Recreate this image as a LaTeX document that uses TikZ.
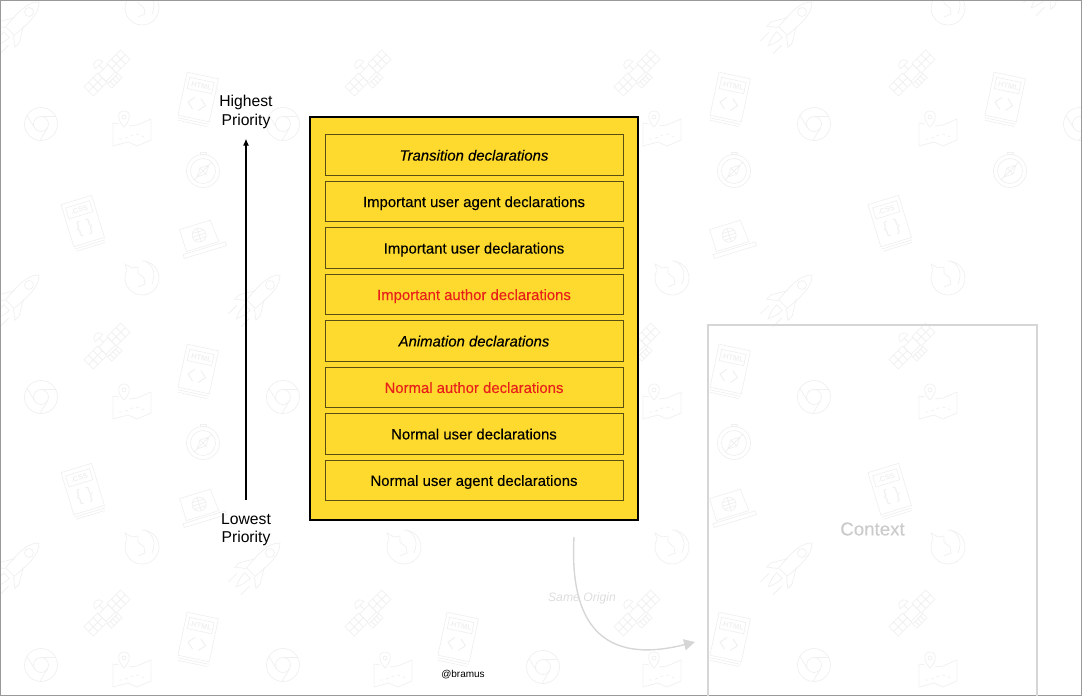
\documentclass[tikz,border=0pt]{standalone}
\usepackage{fontspec}
\setmainfont{Liberation Sans}
\newfontfamily\medfont[FakeBold=0.2]{Liberation Sans}
\usetikzlibrary{arrows.meta,positioning}
\definecolor{wallgrey}{HTML}{F0F0F0}
\definecolor{fadegrey}{HTML}{D6D6D6}
\definecolor{declyellow}{HTML}{FFDA2E}
\definecolor{rowline}{HTML}{5A4E12}
\definecolor{declred}{HTML}{E8201A}

\begin{document}
\begin{tikzpicture}[
    x=1pt, y=-1pt,
    outerbox/.style={draw=black, fill=declyellow, line width=2.8pt, outer sep=0pt, minimum width=328pt, minimum height=403pt},
    declbox/.style={draw=rowline, line width=1pt, outer sep=0pt, minimum width=298pt, minimum height=40.5pt, text height=12.6pt, text depth=1.4pt, font=\fontsize{14.9}{17}\medfont},
    prio/.style={align=center, inner sep=0pt, font=\fontsize{15.7}{18.4}\selectfont},
    axisarrow/.style={-{Latex[length=7pt,width=6pt]}, line width=1.1pt},
    faded/.style={-{Triangle[length=11pt,width=11pt]}, draw=fadegrey, line width=1.4pt},
    wall/.style={draw=wallgrey, line width=0.75pt},
    rocket/.pic={
        \draw[wall] (0,-31) .. controls (8,-24) and (8,-10) .. (6,10) -- (-6,10) .. controls (-8,-10) and (-8,-24) .. (0,-31) -- cycle;
        \draw[wall] (0,-17) circle[radius=4.5];
        \draw[wall] (6,-3) -- (15,12) -- (15,18) -- (6,11);
        \draw[wall] (-6,-3) -- (-15,12) -- (-15,18) -- (-6,11);
        \draw[wall] (-4,15) .. controls (-4,22) and (-2,26) .. (0,31) .. controls (2,26) and (4,22) .. (4,15) -- cycle;
        \draw[wall] (-9,21) -- (-9,33) (9,21) -- (9,33);
    },
    satellite/.pic={
        \draw[wall] (-9,-7) rectangle (9,7);
        \draw[wall] (9,-9) rectangle (35,9) (17.7,-9) -- (17.7,9) (26.3,-9) -- (26.3,9) (9,0) -- (35,0);
        \draw[wall] (-9,-9) rectangle (-35,9) (-17.7,-9) -- (-17.7,9) (-26.3,-9) -- (-26.3,9) (-9,0) -- (-35,0);
        \draw[wall] (-7,-15) .. controls (-6,-25) and (6,-25) .. (7,-15) -- cycle;
        \draw[wall] (0,-7) -- (0,-15);
        \draw[wall] (-10,11) rectangle (10,19) (-5,11) -- (-5,19) (0,11) -- (0,19) (5,11) -- (5,19);
    },
    chromeicon/.pic={
        \draw[wall] (0,0) circle[radius=16.5] (0,0) circle[radius=7.5];
        \draw[wall] (0,-7.5) -- (15,-7.5) (-6.5,3.7) -- (-14,-8.5) (6.5,3.7) -- (-1,16.4);
    },
    mapicon/.pic={
        \draw[wall] (-13,-7) -- (-19,-8) -- (-19,15) -- (-4,11) -- (5,15) -- (19,9) -- (19,-12) -- (5,-6) -- (-3,-5);
        \draw[wall] (-8,-4) .. controls (-15,-11) and (-15,-20) .. (-8,-20) .. controls (-1,-20) and (-1,-11) .. (-8,-4) -- cycle;
        \draw[wall] (-8,-14) circle[radius=2];
        \draw[wall, dashed] (-13,8) .. controls (-3,9) and (2,-2) .. (12,6);
    },
    firefoxicon/.pic={
        \draw[wall] (0,-17) arc[start angle=-90, end angle=205, radius=17];
        \draw[wall] (-15,-8) -- (-17,-14) -- (-10,-10) -- (-4,-11) -- (-4,-5) -- (2,0) -- (3,6) -- (-4,9);
        \draw[wall] (3,-17) .. controls (12,-12) and (14,-4) .. (10,6);
    },
    compassicon/.pic={
        \draw[wall] (0,0) circle[radius=16.5] (0,0) circle[radius=12.5];
        \draw[wall] (-3,-19) rectangle (3,-16.5);
        \draw[wall] (-9,9) -- (9,-9) (-3,-3) -- (3,3) -- (6,-6) -- cycle;
        \draw[wall] (-3,-3) -- (-6,6) -- (3,3);
    },
    htmlicon/.pic={
        \draw[wall] (-16,-23) rectangle (16,21);
        \draw[wall] (-16,23.5) -- (16,23.5) (-15,26) -- (15,26);
        \draw[wall] (-12.5,-18.5) rectangle (12.5,-7);
        \node[transform shape, inner sep=0pt, text=wallgrey, font=\fontsize{7.5}{9}\selectfont\bfseries] (htmltag) at (0,-12.7) {.HTML};
        \draw[wall, line width=1pt] (-3,0) -- (-9,6) -- (-3,12) (3,0) -- (9,6) -- (3,12);
    },
    cssicon/.pic={
        \draw[wall] (-16,-23) rectangle (16,21);
        \draw[wall] (-16,23.5) -- (16,23.5) (-15,26) -- (15,26);
        \draw[wall] (-12.5,-18.5) rectangle (12.5,-7);
        \node[transform shape, inner sep=0pt, text=wallgrey, font=\fontsize{7.5}{9}\selectfont\bfseries] (csstag) at (0,-12.7) {.CSS};
        \node[transform shape, inner sep=0pt, text=wallgrey, font=\fontsize{17}{18}\selectfont] (cssbrace) at (0,6) {\{\,\,\}};
    },
    laptopicon/.pic={
        \draw[wall] (-17,-14) -- (15,-14) -- (17,9) -- (-17,9) -- cycle;
        \draw[wall] (-21,11) rectangle (23,15);
        \draw[wall] (0,-3) circle[radius=7] (-7,-3) -- (7,-3) (0,-10) -- (0,4) (-6,-6.5) -- (6,-6.5) (-6,0.5) -- (6,0.5);
    }
]
\path[use as bounding box, clip] (0,0) rectangle (1082,696);

% wallpaper
\foreach \px/\py in {17/24,17/297,17/565,258/297,258/565,790/24,790/297,790/565,1053/-14}
    \pic[rotate=-45] at (\px,\py) {rocket};
\foreach \px/\py in {107/73,107/346,107/613,368/73,368/613,637/613,637/73,637/346,912/73,912/346,912/613}
    \pic[rotate=45, scale=0.74] at (\px,\py) {satellite};
\foreach \px/\py in {41/124,41/397,41/665,283/124,283/397,283/665,543/667,814/124,814/397,814/665,1080/124}
    \pic at (\px,\py) {chromeicon};
\foreach \px/\py in {132/131,132/404,132/672,393/672,662/131,662/404,662/672,938/131,938/404,938/672}
    \pic at (\px,\py) {mapicon};
\foreach \px/\py in {142/8,142/278,142/547,404/547,672/278,672/547,948/8,948/278,948/547}
    \pic at (\px,\py) {firefoxicon};
\foreach \px/\py in {203/171,203/443,734/171,734/443,1010/171}
    \pic at (\px,\py) {compassicon};
\foreach \px/\py in {198/98,198/370,198/638,458/638,730/98,730/370,730/638,1005/98}
    \pic[rotate=-12] at (\px,\py) {htmlicon};
\foreach \px/\py in {83/222,83/490,890/222,890/490}
    \pic[rotate=17] at (\px,\py) {cssicon};
\foreach \px/\py in {200/238,200/507,730/238,730/507}
    \pic[rotate=17] at (\px,\py) {laptopicon};

% frame
\draw[draw=gray!80, line width=1pt] (0.5,0.5) rectangle (1081.5,695.5);

% faded part
\node[draw=fadegrey, line width=2.6pt, outer sep=0pt, minimum width=329pt, minimum height=408pt, text=fadegrey!95!black, font=\fontsize{18.7}{22}\medfont] (context) at (872.5,529) {Context};
\coordinate (origin) at (574,537);
\coordinate (target) at (695,642);
\node[text=wallgrey!92!black, font=\fontsize{12.2}{14}\selectfont\itshape] (sameorigin) at (582,598) {Same Origin};
\draw[faded] (origin) .. controls (570,610) and (592,668) .. (target);

% priority stack
\node[outerbox] (stack) at (474,318.5) {};
\node[declbox] (transition) at (474,155) {\itshape Transition declarations};
\node[declbox, below=5.97pt of transition] (impagent) {Important user agent declarations};
\node[declbox, below=5.97pt of impagent] (impuser) {Important user declarations};
\node[declbox, below=5.97pt of impuser, text=declred] (impauthor) {Important author declarations};
\node[declbox, below=5.97pt of impauthor] (animation) {\itshape Animation declarations};
\node[declbox, below=5.97pt of animation, text=declred] (normauthor) {Normal author declarations};
\node[declbox, below=5.97pt of normauthor] (normuser) {Normal user declarations};
\node[declbox, below=5.97pt of normuser] (normagent) {Normal user agent declarations};

% axis
\node[prio] (highest) at (246,112) {Highest\\Priority};
\node[prio] (lowest) at (246,530) {Lowest\\Priority};
\draw[axisarrow, shorten >=10pt, shorten <=14pt] (lowest.north) -- (highest.south);

\node[font=\fontsize{10}{12}\selectfont] (credit) at (463,675) {@bramus};
\end{tikzpicture}
\end{document}
